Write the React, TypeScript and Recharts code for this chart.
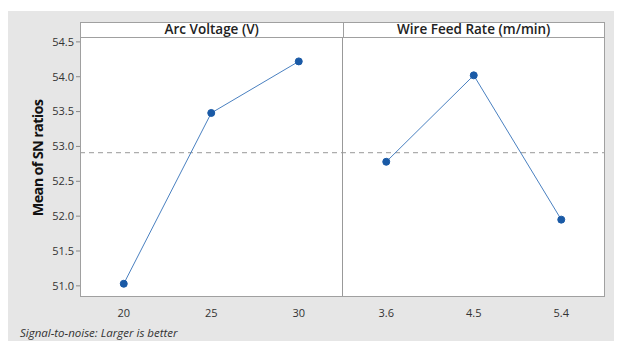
import React from 'react'
import { LineChart, Line, XAxis, YAxis, ReferenceLine, CartesianGrid } from 'recharts'

const voltageLabels: string[] = ['20', '25', '30']
const voltageMeans: number[] = [51.03, 53.48, 54.22]
const feedLabels: string[] = ['3.6', '4.5', '5.4']
const feedMeans: number[] = [52.78, 54.02, 51.95]
const yTicks: number[] = [51.0, 51.5, 52.0, 52.5, 53.0, 53.5, 54.0, 54.5]
const panelTitles: string[] = ['Arc Voltage (V)', 'Wire Feed Rate (m/min)']

const allLabels = [...voltageLabels, ...feedLabels]
const overallMean = voltageMeans.reduce((a, b) => a + b, 0) / voltageMeans.length

const chartData = allLabels.map((label, i) => ({
  pos: i + 0.5,
  label,
  voltage: i < voltageLabels.length ? voltageMeans[i] : null,
  feed: i >= voltageLabels.length ? feedMeans[i - voltageLabels.length] : null,
}))

const font = '"Open Sans", "Noto Sans", sans-serif'
const W = 612
const H = 330
const plot = { left: 72, right: 597, top: 26, bottom: 286, headerTop: 11 }

const App: React.FC = () => {
  const panelW = (plot.right - plot.left) / 2
  return (
    <div style={{ position: 'relative', width: W, height: H, marginTop: 3, background: '#e6e6e6', fontFamily: font }}>
      <LineChart width={W} height={H} data={chartData} margin={{ top: plot.top, right: W - plot.right, left: 0, bottom: 0 }}>
        <CartesianGrid horizontal={false} vertical={false} fill="#ffffff" />
        <XAxis
          dataKey="pos"
          type="number"
          domain={[0, allLabels.length]}
          ticks={chartData.map(d => d.pos)}
          tickFormatter={(v: number) => allLabels[Math.floor(v)]}
          height={H - plot.bottom}
          axisLine={false}
          tickLine={false}
          tick={{ fontSize: 11, fill: '#333', fontFamily: font }}
          tickMargin={6}
        />
        <YAxis
          domain={[50.84, 54.57]}
          ticks={yTicks}
          tickFormatter={(v: number) => v.toFixed(1)}
          width={plot.left}
          axisLine={false}
          tickSize={4}
          stroke="#888"
          tick={{ fontSize: 11, fill: '#333', fontFamily: font }}
          allowDataOverflow
        />
        <ReferenceLine y={overallMean} stroke="#999" strokeDasharray="5 4" />
        <ReferenceLine x={voltageLabels.length} stroke="#999" />
        <Line dataKey="voltage" stroke="#4a80c0" strokeWidth={1} dot={{ r: 3.5, fill: '#1a5aa6', stroke: '#1a5aa6' }} isAnimationActive={false} />
        <Line dataKey="feed" stroke="#4a80c0" strokeWidth={1} dot={{ r: 3.5, fill: '#1a5aa6', stroke: '#1a5aa6' }} isAnimationActive={false} />
      </LineChart>
      <div style={{ position: 'absolute', left: plot.left, top: plot.headerTop, width: plot.right - plot.left, height: plot.bottom - plot.headerTop, border: '1px solid #a0a0a0', boxSizing: 'border-box', pointerEvents: 'none' }} />
      {panelTitles.map((t, i) => (
        <div key={t} style={{ position: 'absolute', left: plot.left + i * panelW, top: plot.headerTop, width: panelW + (i === 0 ? 1 : 0), height: plot.top - plot.headerTop + 1, background: '#fff', border: '1px solid #a0a0a0', boxSizing: 'border-box', fontSize: 13.5, fontWeight: 600, color: '#222', textAlign: 'center', lineHeight: '13px' }}>
          {t}
        </div>
      ))}
      <svg style={{ position: 'absolute', left: 0, top: 0, pointerEvents: 'none' }} width={60} height={H}>
        <text x={29} y={147} transform="rotate(-90 29 147)" textAnchor="middle" dominantBaseline="central" fontFamily={font} fontSize={14.5} fontWeight={700} fill="#111" letterSpacing={-0.7}>
          Mean of SN ratios
        </text>
      </svg>
      <div style={{ position: 'absolute', left: 12, top: 314, fontSize: 11.5, fontStyle: 'italic', color: '#333' }}>
        Signal-to-noise: Larger is better
      </div>
    </div>
  )
}

export default App
